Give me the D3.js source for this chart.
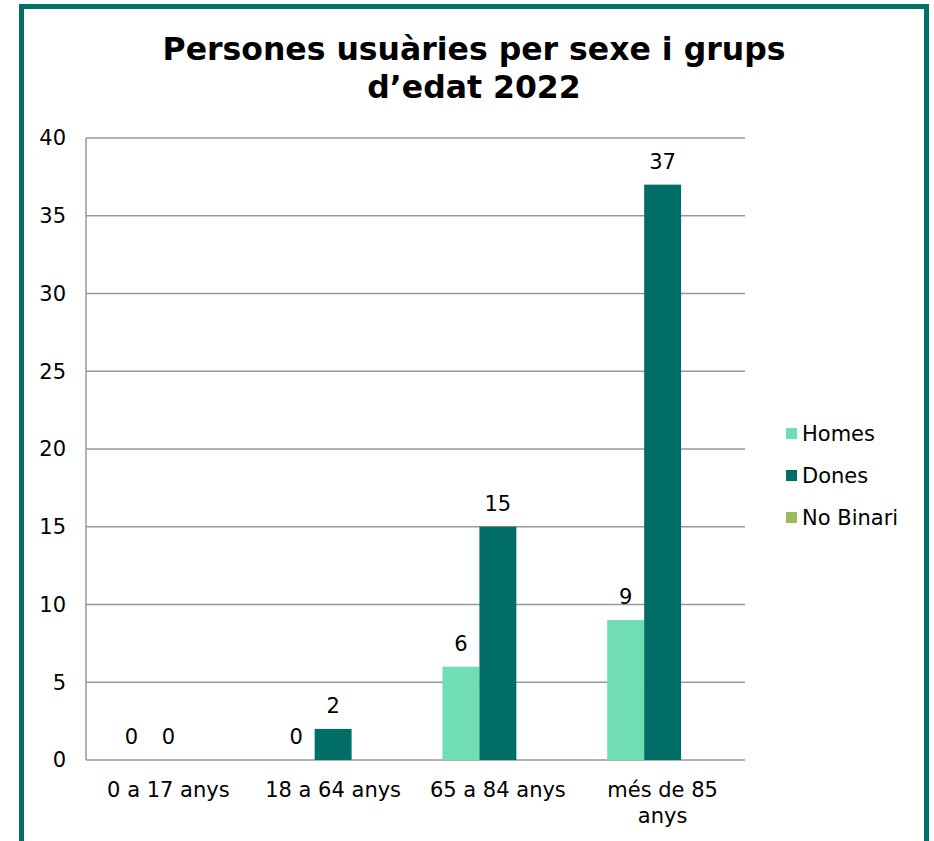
<!DOCTYPE html>
<html>
<head>
<meta charset="utf-8">
<script src="https://cdn.jsdelivr.net/npm/d3@7"></script>
<style>
  body { margin: 0; background: #fff; }
  svg { display: block; font-family: "DejaVu Sans", Verdana, sans-serif; }
</style>
</head>
<body>
<div id="chart"></div>
<script>
// Data
let categories = ["0 a 17 anys", "18 a 64 anys", "65 a 84 anys", "més de 85 anys"];
let seriesNames = ["Homes", "Dones", "No Binari"];
let homes = [0, 0, 6, 9];
let dones = [0, 2, 15, 37];
let noBinari = [null, null, null, null];
let yTicks = [0, 5, 10, 15, 20, 25, 30, 35, 40];

let colors = ["#6fdfb3", "#006e67", "#9bbb59"];

function gen_bar_chart() {
    let width = 934,
        height = 841;
    let margin = {left: 86, right: 189, top: 138, bottom: 81};

    let svg = d3.select("#chart")
        .append("svg")
        .attr("width", width)
        .attr("height", height);

    // frame
    svg.append("rect")
        .attr("x", 21.5).attr("y", 6.5)
        .attr("width", 905).attr("height", 850)
        .attr("fill", "#fff")
        .attr("stroke", "#007068")
        .attr("stroke-width", 5);

    // title
    let title = svg.append("text")
        .attr("text-anchor", "middle")
        .attr("font-weight", "bold")
        .attr("font-size", 31.5)
        .attr("fill", "#000");
    title.append("tspan").attr("x", 474).attr("y", 60).text("Persones usuàries per sexe i grups");
    title.append("tspan").attr("x", 474).attr("y", 98).text("d\u2019edat 2022");

    let x0 = d3.scaleBand()
        .domain(categories)
        .range([margin.left, width - margin.right]);

    let x1 = d3.scaleBand()
        .domain(seriesNames)
        .range([0, x0.bandwidth()])
        .paddingOuter(0.73);

    let y = d3.scaleLinear()
        .domain([0, 40])
        .range([height - margin.bottom, margin.top]);

    // gridlines
    svg.append("g")
        .selectAll("line")
        .data(yTicks)
        .enter().append("line")
        .attr("x1", margin.left)
        .attr("x2", width - margin.right)
        .attr("y1", d => y(d))
        .attr("y2", d => y(d))
        .attr("stroke", "#999")
        .attr("stroke-width", 1.5);

    // y axis line
    svg.append("line")
        .attr("x1", margin.left).attr("x2", margin.left)
        .attr("y1", y(40)).attr("y2", y(0))
        .attr("stroke", "#999")
        .attr("stroke-width", 1.5);

    // y tick labels
    svg.append("g")
        .selectAll("text")
        .data(yTicks)
        .enter().append("text")
        .attr("x", 66)
        .attr("y", d => y(d))
        .attr("dy", "0.35em")
        .attr("text-anchor", "end")
        .attr("font-size", 21)
        .attr("fill", "#000")
        .text(d => d);

    let series = [homes, dones, noBinari];
    let rows = [];
    series.forEach(function(vals, si) {
        vals.forEach(function(v, ci) {
            rows.push({cat: categories[ci], name: seriesNames[si], value: v, idx: si});
        });
    });

    // bars
    svg.append("g")
        .selectAll("rect")
        .data(rows.filter(d => d.value))
        .enter().append("rect")
        .attr("x", d => x0(d.cat) + x1(d.name))
        .attr("y", d => y(d.value))
        .attr("width", x1.bandwidth())
        .attr("height", d => y(0) - y(d.value))
        .attr("fill", d => colors[d.idx]);

    // value labels
    svg.append("g")
        .selectAll("text")
        .data(rows.filter(d => d.value !== null))
        .enter().append("text")
        .attr("x", d => x0(d.cat) + x1(d.name) + x1.bandwidth() / 2)
        .attr("y", d => y(d.value) - 16)
        .attr("text-anchor", "middle")
        .attr("font-size", 21)
        .attr("fill", "#000")
        .text(d => d.value);

    // category labels
    let catLabels = [["0 a 17 anys"], ["18 a 64 anys"], ["65 a 84 anys"], ["més de 85", "anys"]];
    let cl = svg.append("g")
        .selectAll("text")
        .data(categories)
        .enter().append("text")
        .attr("text-anchor", "middle")
        .attr("font-size", 21)
        .attr("fill", "#000");
    cl.each(function(d, i) {
        let t = d3.select(this);
        catLabels[i].forEach(function(line, j) {
            t.append("tspan")
                .attr("x", x0(d) + x0.bandwidth() / 2)
                .attr("y", 797 + j * 26)
                .text(line);
        });
    });

    // legend
    let legend = svg.append("g")
        .selectAll("g")
        .data(seriesNames)
        .enter().append("g")
        .attr("transform", (d, i) => "translate(786," + (434 + i * 42) + ")");
    legend.append("rect")
        .attr("x", 0).attr("y", -6)
        .attr("width", 11).attr("height", 11)
        .attr("fill", (d, i) => colors[i]);
    legend.append("text")
        .attr("x", 16)
        .attr("y", 0)
        .attr("dy", "0.35em")
        .attr("font-size", 21)
        .attr("fill", "#000")
        .text(d => d);
}

gen_bar_chart();
</script>
</body>
</html>
